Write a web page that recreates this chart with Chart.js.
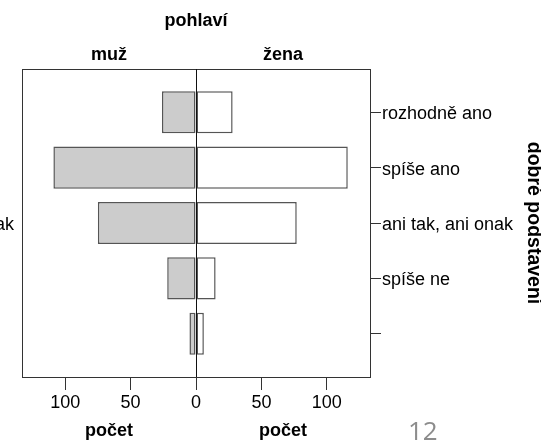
<!DOCTYPE html>
<html lang="cs">
<head>
    <meta charset="UTF-8">
    <title>pohlaví × dobré podstavení</title>
    <script src="https://cdn.jsdelivr.net/npm/chart.js@4.4.0/dist/chart.umd.min.js"></script>
    <style>
        html, body { margin: 0; padding: 0; background: #fff; }
        #wrap { position: relative; width: 541px; height: 445px; }
    </style>
</head>
<body>
    <div id="wrap"><canvas id="pyramid" width="541" height="445"></canvas></div>
    <script>
        // answer categories, top to bottom (the last one has no label)
        var categories = ['rozhodně ano', 'spíše ano', 'ani tak, ani onak', 'spíše ne', ''];
        var sexes = ['muž', 'žena'];
        var maleCounts = [26, 109, 75, 22, 5];
        var femaleCounts = [28, 116, 77, 15, 6];
        var countTicks = [-100, -50, 0, 50, 100];
        var halfCentres = [-66.5, 66.5];
        var countLabel = 'počet';
        var leftLabelIndex = 2;   // only this label of the neighbouring axis peeks in at the left
        var pageNumber = '12';

        var countRange = 133;
        var lineColor = '#333';

        Chart.defaults.font.family = "'Liberation Sans', Arial, sans-serif";
        Chart.defaults.font.size = 18;
        Chart.defaults.color = '#000';

        var pageNumberPlugin = {
            id: 'pageNumber',
            afterDraw: function (chart) {
                var c = chart.ctx;
                c.save();
                c.font = "26px 'Open Sans', sans-serif";
                c.fillStyle = '#8c8c8c';
                c.textAlign = 'left';
                c.textBaseline = 'alphabetic';
                c.fillText(pageNumber, 408, 440);
                c.restore();
            }
        };

        function toPoints(values, sign) {
            return values.map(function (v, i) { return { x: sign * v, y: i }; });
        }

        var barStyle = {
            borderColor: '#555',
            borderWidth: 1.5,
            borderSkipped: false,
            grouped: false,
            categoryPercentage: 0.76,
            barPercentage: 1
        };

        var config = {
            type: 'bar',
            data: {
                datasets: [
                    Object.assign({ label: sexes[0], data: toPoints(maleCounts, -1), backgroundColor: '#cccccc' }, barStyle),
                    Object.assign({ label: sexes[1], data: toPoints(femaleCounts, 1), backgroundColor: '#ffffff' }, barStyle)
                ]
            },
            options: {
                indexAxis: 'y',
                responsive: false,
                animation: false,
                layout: { padding: 0 },
                plugins: { legend: { display: false }, tooltip: { enabled: false } },
                scales: {
                    x: {
                        type: 'linear', position: 'bottom', weight: 0,
                        min: -countRange, max: countRange,
                        afterBuildTicks: function (s) { s.ticks = countTicks.map(function (v) { return { value: v }; }); },
                        afterFit: function (s) { s.height = 40; },
                        ticks: { callback: function (v) { return Math.abs(v); }, maxRotation: 0, padding: 2 },
                        grid: {
                            z: 1,
                            color: function (c) { return c.tick && c.tick.value === 0 ? '#111' : 'rgba(0,0,0,0)'; },
                            tickColor: lineColor, tickLength: 13
                        },
                        border: { display: true, color: lineColor, z: 1 }
                    },
                    xB: {
                        type: 'linear', position: 'bottom', weight: 1,
                        min: -countRange, max: countRange,
                        afterBuildTicks: function (s) { s.ticks = halfCentres.map(function (v) { return { value: v }; }); },
                        afterFit: function (s) { s.height = 28; },
                        ticks: { callback: function () { return countLabel; }, font: { weight: 'bold' }, maxRotation: 0, padding: 3 },
                        grid: { display: false, drawTicks: false },
                        border: { display: false }
                    },
                    xT: {
                        type: 'linear', position: 'top',
                        min: -countRange, max: countRange,
                        afterBuildTicks: function (s) { s.ticks = halfCentres.map(function (v) { return { value: v }; }); },
                        afterFit: function (s) { s.height = 69; },
                        ticks: { callback: function (v, i) { return sexes[i]; }, font: { weight: 'bold' }, maxRotation: 0, padding: 3 },
                        grid: { display: false, drawTicks: false },
                        border: { display: true, color: lineColor },
                        title: { display: true, text: 'pohlaví', font: { weight: 'bold' }, padding: { top: 10, bottom: 0 } }
                    },
                    y: {
                        type: 'linear', position: 'right', reverse: true,
                        offset: false,
                        min: -0.78, max: 4.78,
                        afterBuildTicks: function (s) { s.ticks = categories.map(function (c, i) { return { value: i }; }); },
                        afterFit: function (s) { s.width = 171; },
                        ticks: { callback: function (v) { return categories[v]; }, padding: 1, labelOffset: 2, autoSkip: false },
                        grid: { offset: false, drawOnChartArea: false, tickLength: 11, tickColor: lineColor, color: lineColor },
                        border: { display: true, color: lineColor },
                        title: { display: true, text: 'dobré podstavení', font: { size: 19.5, weight: 'bold', lineHeight: 1 }, padding: { top: -2.5, bottom: 0 } }
                    },
                    yL: {
                        type: 'linear', position: 'left', reverse: true,
                        min: -0.78, max: 4.78,
                        afterBuildTicks: function (s) { s.ticks = [{ value: leftLabelIndex }]; },
                        afterFit: function (s) { s.width = 22; },
                        ticks: { callback: function (v) { return categories[v]; }, padding: 8, labelOffset: 2 },
                        grid: { display: false, drawTicks: false },
                        border: { display: true, color: lineColor }
                    }
                }
            },
            plugins: [pageNumberPlugin]
        };

        var ctx = document.getElementById('pyramid').getContext('2d');
        window.pyramidChart = new Chart(ctx, config);
    </script>
</body>
</html>
